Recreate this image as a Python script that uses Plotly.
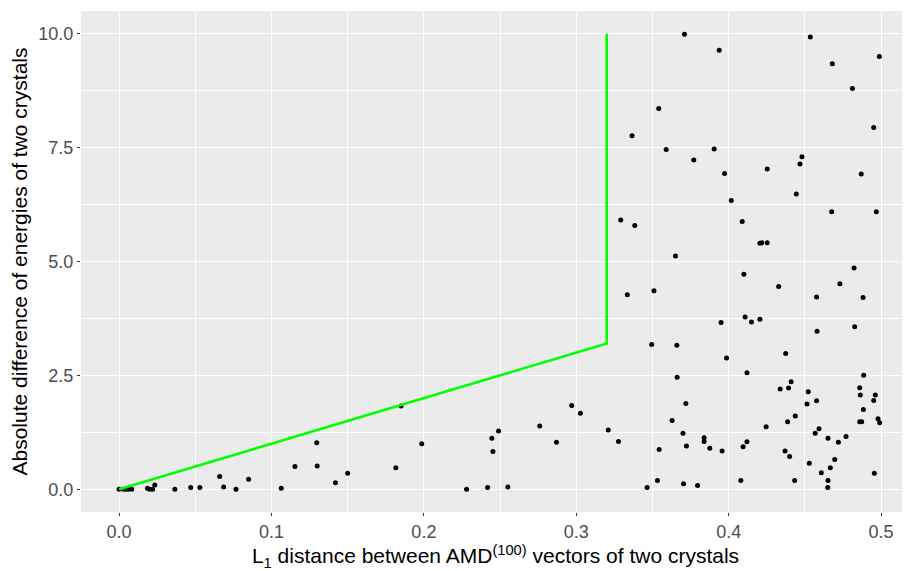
import plotly.graph_objects as go

# scatter points: L1 distance vs absolute energy difference
x_vals = [0.0, 0.003, 0.0044, 0.006, 0.0083, 0.0186, 0.02, 0.022, 0.0234, 0.0366,
          0.047, 0.053, 0.066, 0.0686, 0.0767, 0.085, 0.1064, 0.1154, 0.1297, 0.13,
          0.142, 0.150, 0.185, 0.1816, 0.1986, 0.228, 0.2418, 0.2551, 0.249, 0.2446,
          0.2453, 0.276, 0.287, 0.297, 0.3027, 0.321, 0.3277,
          0.3465, 0.3533, 0.3544, 0.3629, 0.3719, 0.370, 0.3723, 0.3704, 0.3796, 0.3839,
          0.3839, 0.3876, 0.3957, 0.408, 0.4095, 0.412, 0.4246, 0.4338, 0.4393, 0.441,
          0.437, 0.440, 0.4387, 0.4437, 0.4433, 0.4522, 0.4514, 0.4577, 0.4593, 0.4568,
          0.4529, 0.4608, 0.4652, 0.4696, 0.4667, 0.4652, 0.465, 0.472, 0.477, 0.486,
          0.4864, 0.4962, 0.4952, 0.4884, 0.486, 0.4873, 0.498, 0.4991, 0.4956,
          0.371, 0.3938, 0.4536, 0.4989, 0.468, 0.4812, 0.3541, 0.3366, 0.359, 0.3771,
          0.3905, 0.3973, 0.4952, 0.4253, 0.4481, 0.4468, 0.487, 0.4444, 0.4017,
          0.4676, 0.4969, 0.3292, 0.3384, 0.4089, 0.4205, 0.4218, 0.4253, 0.3651, 0.41,
          0.4823, 0.4328, 0.473, 0.3335, 0.351, 0.4577, 0.4882, 0.395, 0.4108, 0.415,
          0.4205, 0.458, 0.4827, 0.3495, 0.366, 0.3986, 0.4374, 0.3662, 0.412, 0.4886]
y_vals = [0.0, 0.0, 0.0, 0.0, 0.0, 0.02, 0.0, 0.0, 0.095, 0.0,
          0.04, 0.04, 0.28, 0.05, 0.0, 0.22, 0.02, 0.5, 1.02, 0.51,
          0.14, 0.35, 1.83, 0.47, 1.0, 0.0, 0.04, 0.05, 1.28, 1.12,
          0.83, 1.39, 1.03, 1.84, 1.67, 1.30, 1.05,
          0.04, 0.19, 0.87, 1.51, 1.88, 1.23, 0.95, 0.12, 0.08, 1.13,
          1.05, 0.90, 0.84, 0.19, 0.93, 1.04, 1.37, 2.20, 2.22, 2.36,
          0.84, 0.72, 1.48, 1.61, 0.19, 2.14, 1.87, 1.94, 1.33, 1.23,
          0.57, 0.36, 1.12, 0.65, 0.47, 0.19, 0.04, 1.03, 1.16, 2.23,
          2.07, 2.07, 1.95, 1.75, 1.48, 1.48, 1.55, 1.46, 0.35,
          9.99, 9.64, 9.93, 9.50, 9.34, 8.80, 8.36, 7.76, 7.46, 7.23,
          7.47, 6.93, 7.94, 7.03, 7.30, 7.14, 6.92, 6.48, 6.34,
          6.09, 6.09, 5.91, 5.79, 5.88, 5.40, 5.41, 5.41, 5.12, 4.72,
          4.86, 4.45, 4.51, 4.27, 4.36, 4.22, 4.21, 3.66, 3.78, 3.67,
          3.73, 3.47, 3.57, 3.18, 3.16, 2.88, 2.98, 2.46, 2.56, 2.50]

# threshold line
line_x = [0.0, 0.32, 0.32]
line_y = [0.0, 3.2, 10.0]

x_ticks = [0.0, 0.1, 0.2, 0.3, 0.4, 0.5]
x_tick_labels = ["0.0", "0.1", "0.2", "0.3", "0.4", "0.5"]
y_ticks = [0.0, 2.5, 5.0, 7.5, 10.0]
y_tick_labels = ["0.0", "2.5", "5.0", "7.5", "10.0"]

fig = go.Figure()
fig.add_trace(go.Scatter(x=x_vals, y=y_vals, mode="markers",
                         marker=dict(color="black", size=5, symbol="circle"),
                         showlegend=False))
fig.add_trace(go.Scatter(x=line_x, y=line_y, mode="lines",
                         line=dict(color="#00FF00", width=2.6),
                         showlegend=False))

# page body has an 8px default margin, so the figure is drawn 8px in from the top-left
fig.update_layout(
    width=902, height=563,
    margin=dict(l=73, r=0, t=3, b=59),
    paper_bgcolor="white",
    plot_bgcolor="#EBEBEB",
    font=dict(family="Liberation Sans, Arial, sans-serif"),
    xaxis=dict(
        range=[-0.025, 0.519],
        tickvals=x_ticks, ticktext=x_tick_labels,
        showgrid=True, gridcolor="white", gridwidth=1.2,
        minor=dict(dtick=0.05, tick0=0.05, showgrid=True, gridcolor="white", gridwidth=0.6, ticklen=0),
        zeroline=False,
        ticks="outside", ticklen=3, tickcolor="#333333", tickwidth=1,
        tickfont=dict(size=18, color="#4D4D4D"),
        title=dict(text="L<sub>1</sub> distance between AMD<sup>(100)</sup> vectors of two crystals",
                   font=dict(size=21, color="black"), standoff=6),
        showline=False,
        automargin=False,
    ),
    yaxis=dict(
        range=[-0.5, 10.5],
        tickvals=y_ticks, ticktext=y_tick_labels,
        showgrid=True, gridcolor="white", gridwidth=1.2,
        minor=dict(dtick=2.5, tick0=1.25, showgrid=True, gridcolor="white", gridwidth=0.6, ticklen=0),
        zeroline=False,
        ticks="outside", ticklen=3, tickcolor="#333333", tickwidth=1,
        tickfont=dict(size=18, color="#4D4D4D"),
        title=dict(text="Absolute difference of energies of two crystals",
                   font=dict(size=21, color="black"), standoff=6),
        showline=False,
        automargin=False,
    ),
)

fig.write_html("out.html")
